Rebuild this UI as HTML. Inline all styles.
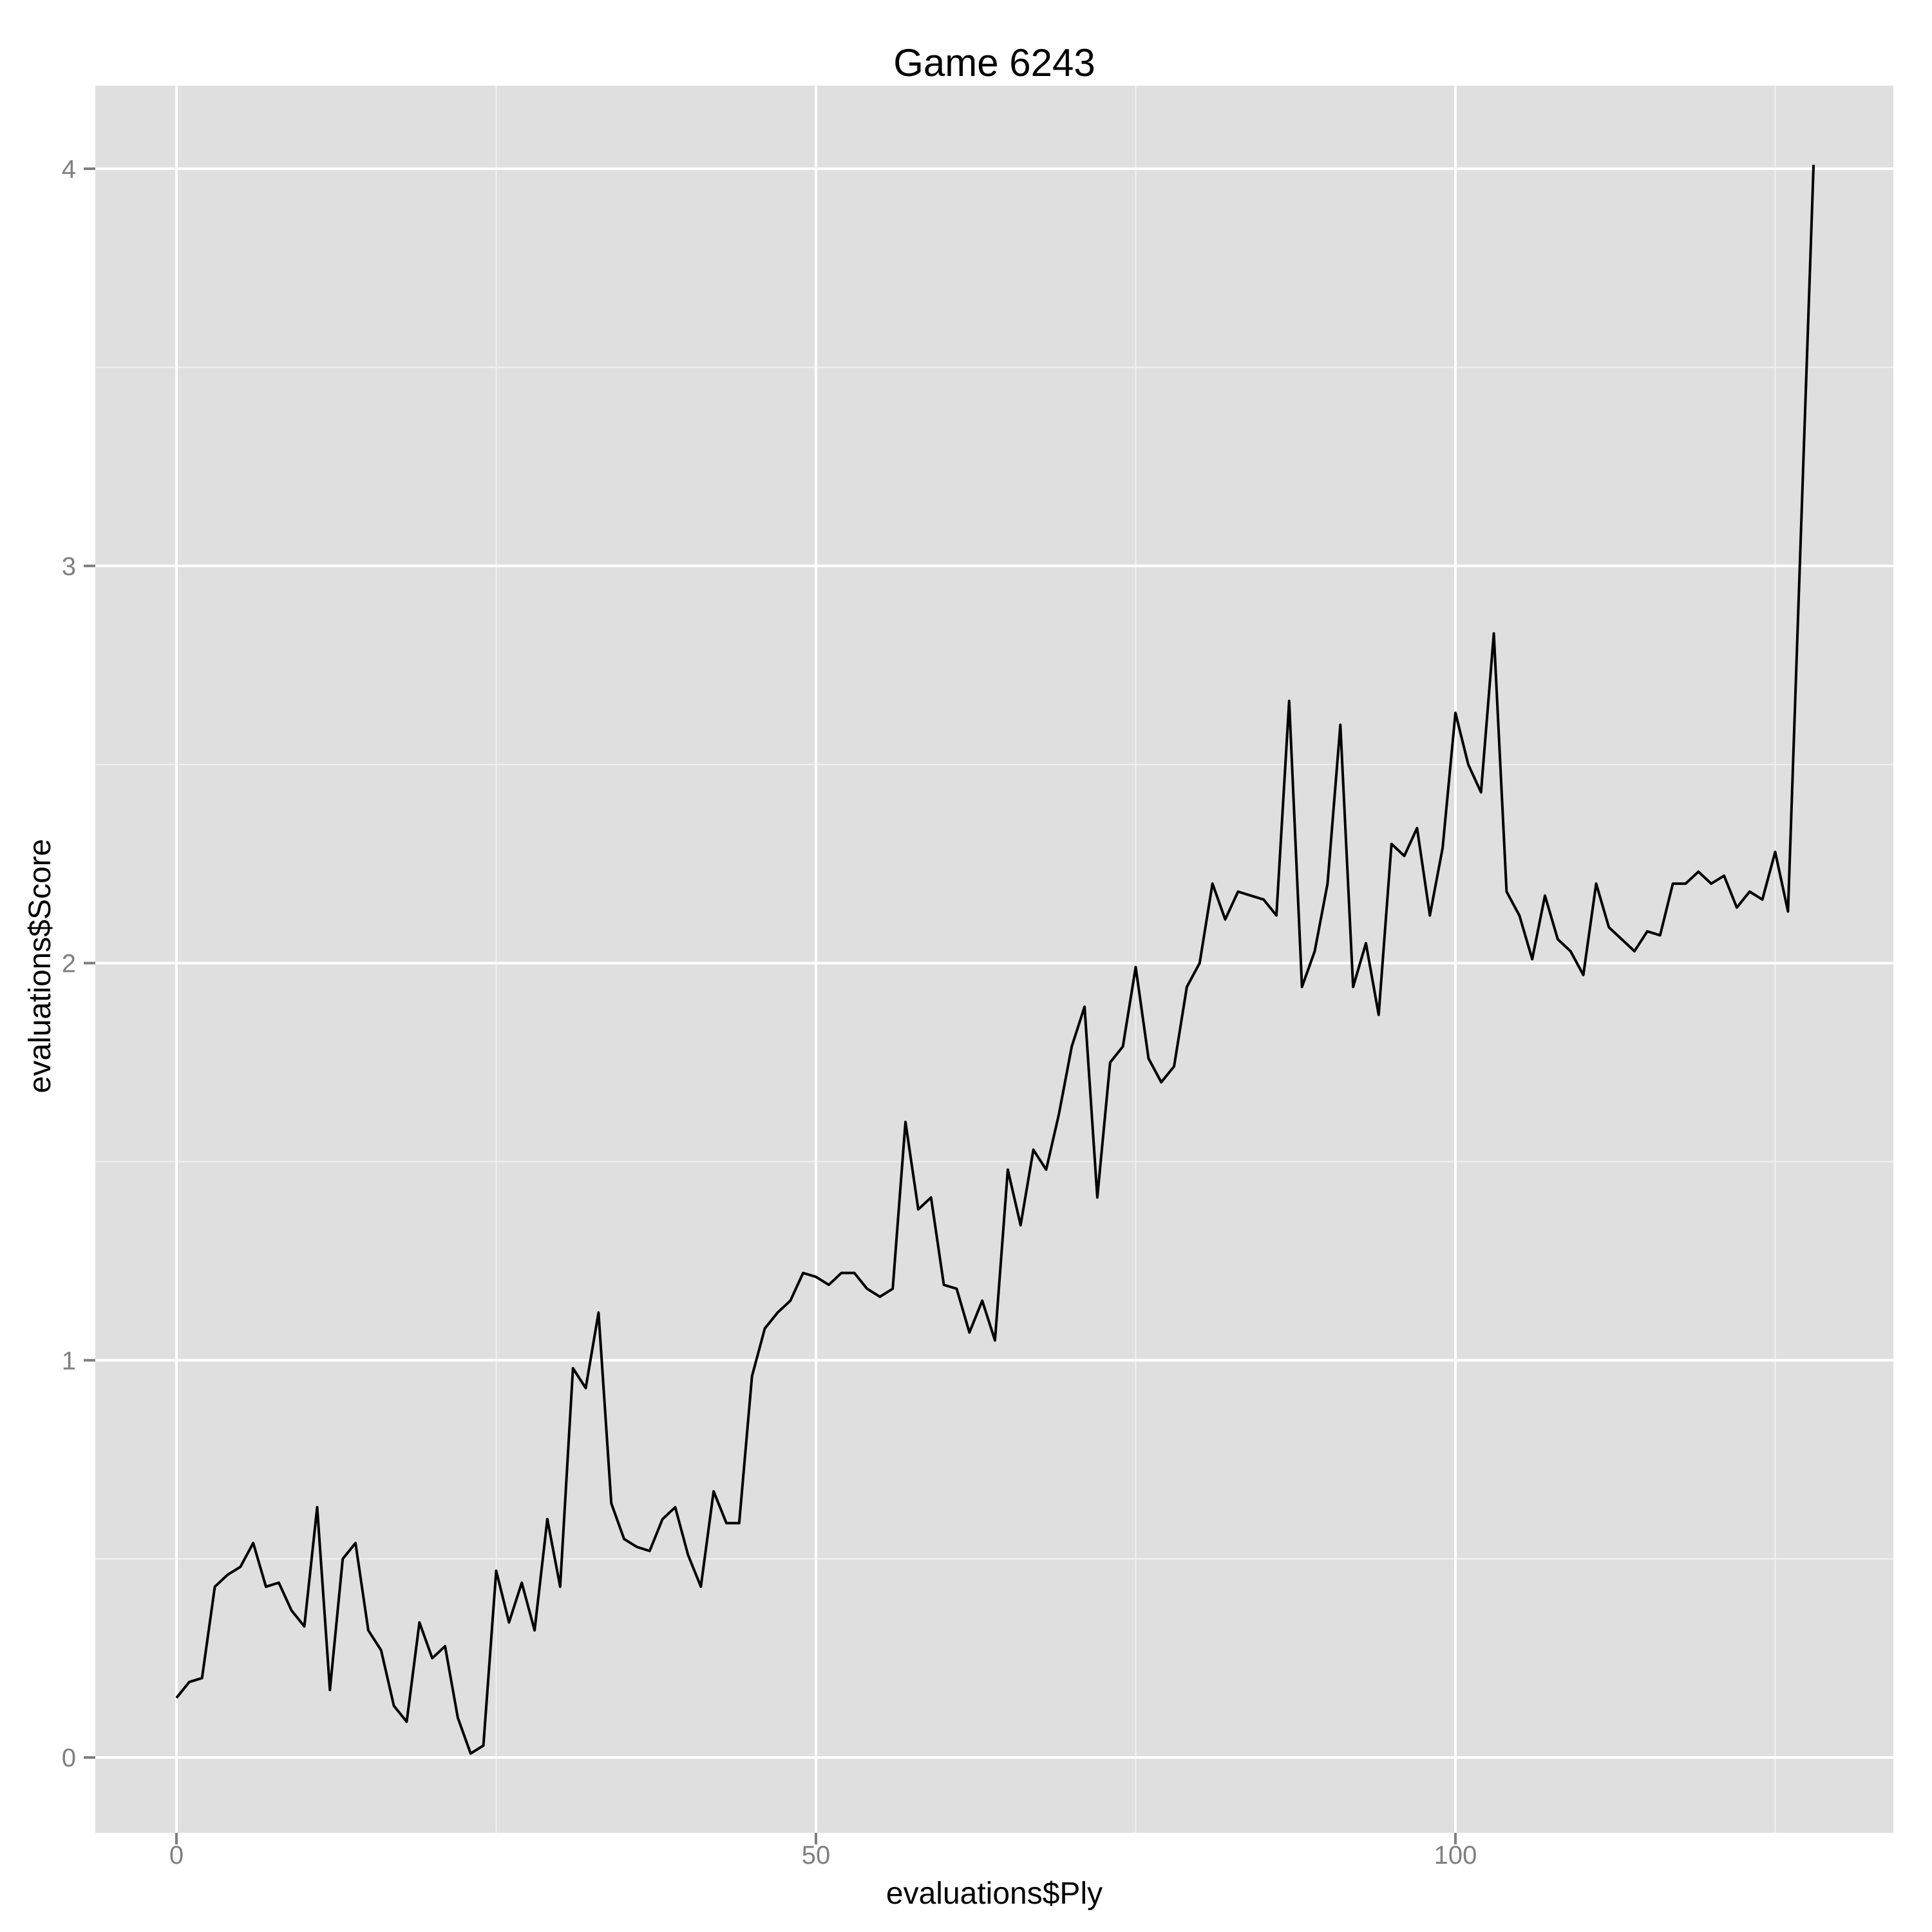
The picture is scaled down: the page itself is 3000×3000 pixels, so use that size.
<!DOCTYPE html>
<html>
<head>
<meta charset="utf-8">
<style>
  html, body { margin: 0; padding: 0; background: #ffffff; }
  svg { display: block; }
  text { font-family: "Liberation Sans", Arial, sans-serif; }
</style>
</head>
<body>
<svg id="chart" width="3000" height="3000" viewBox="0 0 3000 3000" xmlns="http://www.w3.org/2000/svg">
  <rect x="0" y="0" width="3000" height="3000" fill="#ffffff"/>
  <g id="panel"></g>
  <text x="1544" y="118" font-size="60" text-anchor="middle" fill="#000">Game 6243</text>
  <text x="1544" y="2956" font-size="48" text-anchor="middle" fill="#000">evaluations$Ply</text>
  <text x="0" y="0" font-size="48" text-anchor="middle" fill="#000" transform="translate(78,1500) rotate(-90)">evaluations$Score</text>
</svg>
<script>
const scores = [0.15,0.19,0.20,0.43,0.46,0.48,0.54,0.43,0.44,0.37,0.33,0.63,0.17,0.50,0.54,0.32,0.27,0.13,0.09,0.34,
0.25,0.28,0.10,0.01,0.03,0.47,0.34,0.44,0.32,0.60,0.43,0.98,0.93,1.12,0.64,0.55,0.53,0.52,0.60,0.63,
0.51,0.43,0.67,0.59,0.59,0.96,1.08,1.12,1.15,1.22,1.21,1.19,1.22,1.22,1.18,1.16,1.18,1.60,1.38,1.41,
1.19,1.18,1.07,1.15,1.05,1.48,1.34,1.53,1.48,1.62,1.79,1.89,1.41,1.75,1.79,1.99,1.76,1.70,1.74,1.94,
2.00,2.20,2.11,2.18,2.17,2.16,2.12,2.66,1.94,2.03,2.20,2.60,1.94,2.05,1.87,2.30,2.27,2.34,2.12,2.29,
2.63,2.50,2.43,2.83,2.18,2.12,2.01,2.17,2.06,2.03,1.97,2.20,2.09,2.06,2.03,2.08,2.07,2.20,2.20,2.23,
2.20,2.22,2.14,2.18,2.16,2.28,2.13,3.07,4.01];
const xMajorTicks = [0, 50, 100];
const xMinorTicks = [25, 75, 125];
const yMajorTicks = [0, 1, 2, 3, 4];
const yMinorTicks = [0.5, 1.5, 2.5, 3.5];

const P = {left: 148, right: 2940, top: 133, bottom: 2846};
const X0 = 274, XS = 19.86;
const Y0 = 2729, YS = 616.75;
function xs(v) { return X0 + v * XS; }
function ys(v) { return Y0 - v * YS; }

const NS = 'http://www.w3.org/2000/svg';
const svg = document.getElementById('chart');
const panel = document.getElementById('panel');
function mk(tag, attrs, parent) {
  const e = document.createElementNS(NS, tag);
  for (const k in attrs) e.setAttribute(k, attrs[k]);
  parent.appendChild(e);
  return e;
}

const bg = mk('rect', {x: P.left, y: P.top, width: P.right - P.left, height: P.bottom - P.top, fill: '#dfdfdf'}, panel);



xMinorTicks.forEach(v => {
  const l = mk('line', {x1: xs(v), x2: xs(v), y1: P.top, y2: P.bottom, stroke: '#f0f0f0', 'stroke-width': 2}, panel);
  
  
});
yMinorTicks.forEach(v => {
  const l = mk('line', {x1: P.left, x2: P.right, y1: ys(v), y2: ys(v), stroke: '#f0f0f0', 'stroke-width': 2}, panel);
  
  
});
xMajorTicks.forEach(v => {
  const l = mk('line', {x1: xs(v), x2: xs(v), y1: P.top, y2: P.bottom, stroke: '#ffffff', 'stroke-width': 4}, panel);
  
  
  const t = mk('line', {x1: xs(v), x2: xs(v), y1: P.bottom, y2: P.bottom + 18, stroke: '#7f7f7f', 'stroke-width': 4}, svg);
  
  
  const lab = mk('text', {x: xs(v), y: P.bottom + 48, 'font-size': 40, fill: '#7f7f7f', 'text-anchor': 'middle'}, svg);
  lab.textContent = String(v);
  
  
});
yMajorTicks.forEach(v => {
  const l = mk('line', {x1: P.left, x2: P.right, y1: ys(v), y2: ys(v), stroke: '#ffffff', 'stroke-width': 4}, panel);
  
  
  const t = mk('line', {x1: P.left - 18, x2: P.left, y1: ys(v), y2: ys(v), stroke: '#7f7f7f', 'stroke-width': 4}, svg);
  
  
  const lab = mk('text', {x: P.left - 30, y: ys(v) + 14, 'font-size': 40, fill: '#7f7f7f', 'text-anchor': 'end'}, svg);
  lab.textContent = String(v);
  
  
});

const pts = scores.map((s, i) => xs(i).toFixed(1) + ',' + ys(s).toFixed(1)).join(' ');
const line = mk('polyline', {points: pts, fill: 'none', stroke: '#000000', 'stroke-width': 4, 'stroke-linejoin': 'round'}, panel);


</script>
</body>
</html>
